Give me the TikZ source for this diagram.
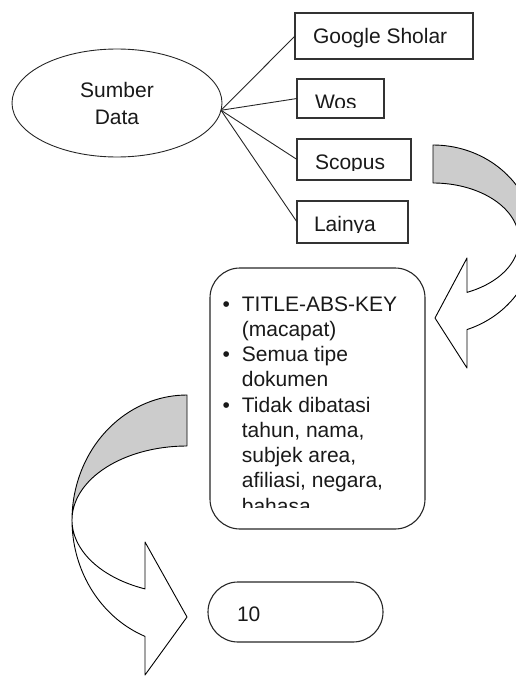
\documentclass[tikz,border=0pt]{standalone}
\usepackage{fontspec}
\setmainfont{Liberation Sans}
\usetikzlibrary{shapes.geometric}
\begin{document}
\begin{tikzpicture}[x=1pt,y=-1pt,
  every node/.style={inner sep=0pt, outer sep=0pt},
  txt/.style={font=\fontsize{21}{25.25}\selectfont, text=black!90, anchor=base west},
  srcbox/.style={draw=black!80, line width=1.3pt, anchor=north west},
  roundbox/.style={draw=black!85, line width=1.1pt, rounded corners=30pt, anchor=north west},
  link/.style={draw=black!85, line width=0.9pt},
  band/.style={draw=black, line width=0.9pt, line join=round},
  backband/.style={band, fill=black!20},
  frontband/.style={band, fill=white},
]
\useasboundingbox (0,0) rectangle (516,677);

% source ellipse
\node[ellipse, draw=black!85, line width=0.9pt, minimum width=210pt, minimum height=108pt,
      align=center, font=\fontsize{21}{27}\selectfont, text=black!90] (src) at (117,103) {Sumber\\Data};

% source boxes
\node[srcbox, minimum width=178pt, minimum height=46pt] (gs) at (295,13) {};
\node[srcbox, minimum width=87pt, minimum height=39pt] (wos) at (297,79) {};
\node[srcbox, minimum width=114pt, minimum height=41pt] (sco) at (297,139) {};
\node[srcbox, minimum width=111pt, minimum height=42pt] (lain) at (297,201) {};

\node[txt] (gst) at (313,43.5) {Google Sholar};
\begin{scope}
  \clip (297,79) rectangle (384,107.5);
  \node[txt] (wost) at (315,109.5) {Wos};
\end{scope}
\begin{scope}
  \clip (297,139) rectangle (411,170);
  \node[txt] (scot) at (315,169.5) {Scopus};
\end{scope}
\begin{scope}
  \clip (297,201) rectangle (408,232);
  \node[txt] (laint) at (314,231.5) {Lainya};
\end{scope}

% connectors
\draw[link] (src.-4) -- (gs.west);
\draw[link] (src.-4) -- (wos.west);
\draw[link] (src.-4) -- (sco.west);
\draw[link] (src.-4) -- (lain.west);

% query box
\node[roundbox, minimum width=215pt, minimum height=261pt] (q) at (210,268) {};
\begin{scope}
  \clip (210,268) rectangle (425,507.5);
  \node[txt] (qt) at (222.5,311) {\begin{tabular}[t]{@{}l@{\hspace{12pt}}l@{}}
    \textbullet & TITLE-ABS-KEY\\
     & (macapat)\\
    \textbullet & Semua tipe\\
     & dokumen\\
    \textbullet & Tidak dibatasi\\
     & tahun, nama,\\
     & subjek area,\\
     & afiliasi, negara,\\
     & bahasa
  \end{tabular}};
\end{scope}

% result box
\node[roundbox, minimum width=175pt, minimum height=60pt, text width=117pt, inner xsep=29pt,
      align=left, text height=18pt, text depth=0pt,
      font=\fontsize{21}{25.25}\selectfont, text=black!90] (ten) at (208,582) {10};

% right curved arrow
\begin{scope}
  \clip (0,0) rectangle (516,677);
  \filldraw[backband]
    plot[domain=-90:0, samples=40] ({433+102*cos(\x)},{240+95*sin(\x)})
    -- plot[domain=0:-90, samples=40] ({433+86*cos(\x)},{240+57*sin(\x)})
    -- cycle;
  \filldraw[frontband]
    plot[domain=0:70.53, samples=40] ({433+102*cos(\x)},{240+95*sin(\x)})
    -- (467,368) -- (435,318) -- (467,258)
    -- plot[domain=66.71:0, samples=40] ({433+86*cos(\x)},{240+57*sin(\x)})
    -- cycle;
\end{scope}

% left curved arrow
\filldraw[backband]
  plot[domain=270:180, samples=40] ({187+115*cos(\x)},{520+125*sin(\x)})
  -- plot[domain=180:270, samples=40] ({187+115*cos(\x)},{520+74*sin(\x)})
  -- cycle;
\filldraw[frontband]
  plot[domain=180:111.4, samples=40] ({187+115*cos(\x)},{520+125*sin(\x)})
  -- (145,675) -- (187,617) -- (145,542)
  -- plot[domain=111.4:180, samples=40] ({187+115*cos(\x)},{520+74*sin(\x)})
  -- cycle;
\end{tikzpicture}
\end{document}
